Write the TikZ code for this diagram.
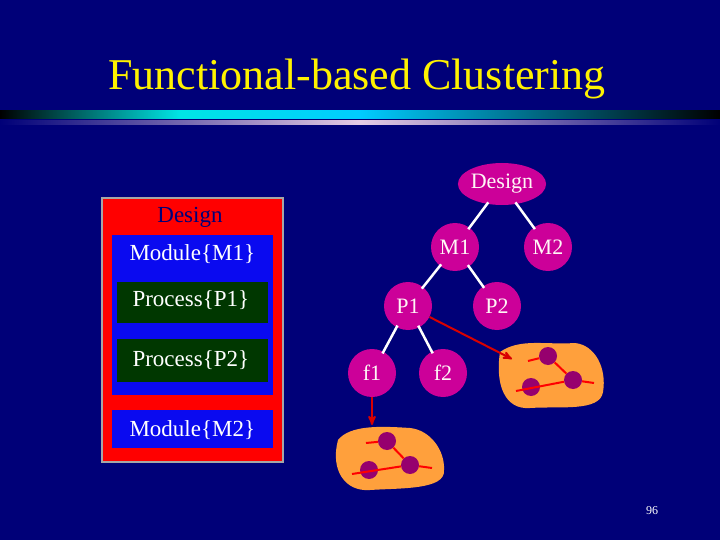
\documentclass[tikz,border=0pt]{standalone}
\usepackage{fontspec}
\setmainfont{Liberation Serif}
\usetikzlibrary{arrows,shapes.geometric}
\definecolor{bg}{RGB}{0,0,120}
\definecolor{mag}{RGB}{204,0,153}
\definecolor{blob}{RGB}{255,160,60}
\definecolor{dot}{RGB}{150,0,110}
\definecolor{pgreen}{RGB}{0,55,0}
\definecolor{pblue}{RGB}{10,10,240}
\begin{document}
\begin{tikzpicture}[x=1pt,y=-1pt,>=stealth',
  tree node/.style={circle,fill=mag,minimum size=48pt,inner sep=0pt,text=white!85!pink,font=\fontsize{22}{22}\selectfont},
  tree edge/.style={white,line width=2.5pt,shorten >=-2pt,shorten <=-2pt},
  box text/.style={text=white,font=\fontsize{23}{23}\selectfont,anchor=west},
  red arrow/.style={->,red!85!black,line width=2pt},
  red line/.style={red,line width=2pt},
  ball/.style={circle,fill=dot,minimum size=18pt,inner sep=0pt}]

  \fill[bg] (0,0) rectangle (720,540);
  \node[text=yellow,font=\fontsize{44}{44}\selectfont] (title) at (357,79) {Functional-based Clustering};
  \shade[left color=black,right color=cyan!80!blue,middle color=cyan!80!teal] (0,111) rectangle (360,119);
  \shade[right color=black,left color=cyan!80!blue] (360,111) rectangle (720,119);
  \shade[left color=bg,right color=violet!20] (0,121) rectangle (360,125);
  \shade[right color=bg,left color=violet!20] (360,121) rectangle (720,125);

  % left box
  \fill[red] (102,198) rectangle (283,462);
  \draw[gray!70,line width=1.5pt] (102,198) rectangle (283,462);
  \node[text=bg,font=\fontsize{23}{23}\selectfont] (des) at (190,217) {Design};
  \fill[pblue] (112,235) rectangle (273,395);
  \node[box text] (m1) at (126,254) {Module\{M1\}};
  \fill[pgreen] (117,282) rectangle (268,323);
  \node[box text] (p1) at (129,300) {Process\{P1\}};
  \fill[pgreen] (117,339) rectangle (268,382);
  \node[box text] (p2) at (129,360) {Process\{P2\}};
  \fill[pblue] (112,410) rectangle (273,448);
  \node[box text] (m2) at (126,430) {Module\{M2\}};

  % tree
  \node[ellipse,fill=mag,minimum width=80pt,minimum height=42pt,inner sep=0pt,text=white!85!pink,font=\fontsize{22}{22}\selectfont] (D) at (502,184) {Design};
  \node[tree node] (M1) at (455,247) {M1};
  \node[tree node] (M2) at (548,247) {M2};
  \node[tree node] (P1) at (408,306) {P1};
  \node[tree node] (P2) at (497,306) {P2};
  \node[tree node] (f1) at (372,373) {f1};
  \node[tree node] (f2) at (443,373) {f2};
  \draw[tree edge] (D) -- (M1);
  \draw[tree edge] (D) -- (M2);
  \draw[tree edge] (M1) -- (P1);
  \draw[tree edge] (M1) -- (P2);
  \draw[tree edge] (P1) -- (f1);
  \draw[tree edge] (P1) -- (f2);

  % clusters
  \fill[blob] (500,352) .. controls (520,338) and (545,345) .. (575,343)
    .. controls (595,345) and (607,368) .. (603,392)
    .. controls (600,412) and (560,406) .. (530,408)
    .. controls (505,410) and (495,385) .. (500,352) -- cycle;
  \coordinate (c1) at (512,359);
  \node[ball] (a1) at (548,356) {};
  \node[ball] (a2) at (573,380) {};
  \node[ball] (a3) at (531,387) {};
  \draw[red line] (528,361) -- (a1) -- (a2) -- (594,383);
  \draw[red line] (516,391) -- (a2);
  \fill[blob] (338,440) .. controls (350,425) and (380,426) .. (410,428)
    .. controls (430,430) and (445,450) .. (444,470)
    .. controls (446,490) and (400,488) .. (370,490)
    .. controls (345,492) and (330,470) .. (338,440) -- cycle;
  \coordinate (c2) at (372,425);
  \node[ball] (b1) at (387,441) {};
  \node[ball] (b2) at (410,465) {};
  \node[ball] (b3) at (369,470) {};
  \draw[red line] (366,443) -- (b1) -- (b2) -- (432,468);
  \draw[red line] (352,474) -- (b2);
  \draw[red arrow] (P1) -- (c1);
  \draw[red arrow] (f1) -- (c2);

  \node[text=white,font=\fontsize{12}{12}\selectfont] (pg) at (652,511) {96};
\end{tikzpicture}
\end{document}
